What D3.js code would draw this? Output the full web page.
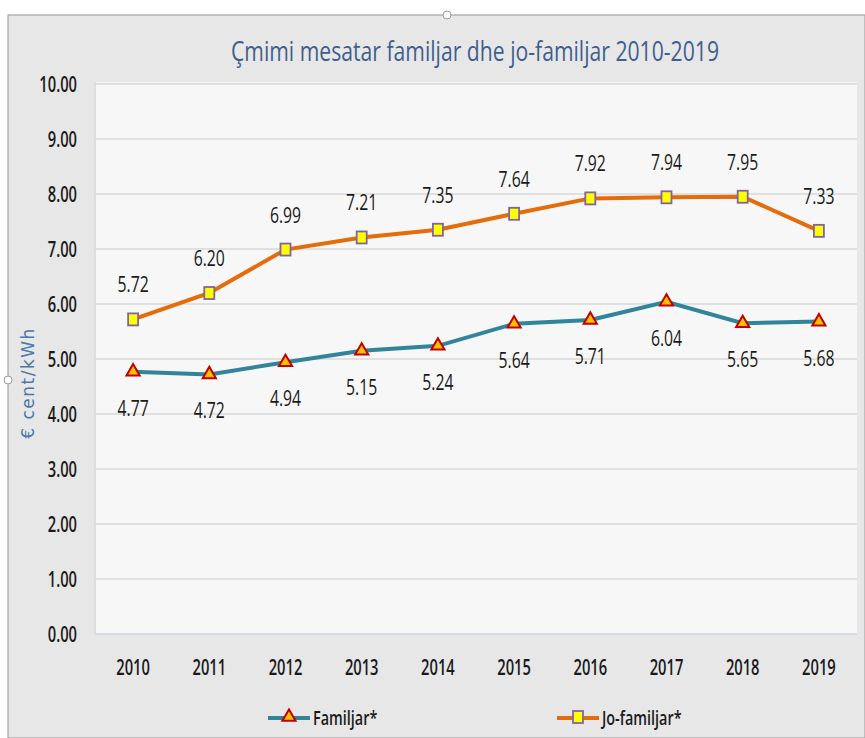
<!DOCTYPE html>
<html><head><meta charset="utf-8">
<script src="https://cdn.jsdelivr.net/npm/d3@7"></script>
<style>
html,body{margin:0;padding:0;background:#fff;}
svg{display:block;}
.cond{font-family:"Open Sans","Liberation Sans",sans-serif;}
</style></head>
<body>
<svg id="chart" width="865" height="738"></svg>
<script>
const years = ["2010","2011","2012","2013","2014","2015","2016","2017","2018","2019"];
const familjar = [4.77,4.72,4.94,5.15,5.24,5.64,5.71,6.04,5.65,5.68];
const joFamiljar = [5.72,6.20,6.99,7.21,7.35,7.64,7.92,7.94,7.95,7.33];
const yTicks = [0,1,2,3,4,5,6,7,8,9,10];
const seriesNames = ["Familjar*","Jo-familjar*"];
const chartTitle = "Çmimi mesatar familjar dhe jo-familjar 2010-2019";
const yTitle = "€ cent/kWh";

(function(){
const svg = d3.select("#chart");
const W = 865, H = 738;

function condense(sel, f){
  sel.each(function(){
    const w = this.getComputedTextLength();
    d3.select(this).attr("textLength", w*f).attr("lengthAdjust","spacingAndGlyphs");
  });
}

svg.append("rect").attr("x",8).attr("y",15).attr("width",W-8).attr("height",H-15)
  .attr("fill","#e7e7e7").attr("stroke","#a6a6a6").attr("stroke-width",1.2);
svg.append("circle").attr("cx",447).attr("cy",15).attr("r",4).attr("fill","#fff").attr("stroke","#999");
svg.append("circle").attr("cx",8).attr("cy",380).attr("r",4).attr("fill","#fff").attr("stroke","#999");

const pL = 95, pR = 857, pT = 84, pB = 634;
const x = d3.scaleBand().domain(years).range([pL,pR]);
const y = d3.scaleLinear().domain([0,10]).range([pB,pT]);

svg.append("rect").attr("x",pL).attr("y",pT-2).attr("width",pR-pL).attr("height",pB-pT+2)
  .attr("fill","#f7f7f7");

svg.append("g").selectAll("line").data(yTicks.filter(d=>d>0)).join("line")
  .attr("x1",pL).attr("x2",pR).attr("y1",d=>y(d)).attr("y2",d=>y(d))
  .attr("stroke","#d9d9d9").attr("stroke-width",1.5);
svg.append("line").attr("x1",pL).attr("x2",pR).attr("y1",pB).attr("y2",pB)
  .attr("stroke","#c9d5e3").attr("stroke-width",1.5);
svg.append("line").attr("x1",pL).attr("x2",pL).attr("y1",pT-2).attr("y2",pB)
  .attr("stroke","#d9d9d9").attr("stroke-width",1.5);

const yAxis = d3.axisLeft(y).tickValues(yTicks).tickFormat(d3.format(".2f")).tickSize(0).tickPadding(18);
const gy = svg.append("g").attr("transform",`translate(${pL},0)`).call(yAxis);
gy.select(".domain").remove();
gy.selectAll("text").attr("class","cond").attr("font-size",21).attr("fill","#1a1a1a")
  .attr("font-weight",600).attr("dy","0.36em").call(condense,0.7);

const xAxis = d3.axisBottom(x).tickSize(0).tickPadding(26);
const gx = svg.append("g").attr("transform",`translate(0,${pB})`).call(xAxis);
gx.select(".domain").remove();
gx.selectAll("text").attr("class","cond").attr("font-size",21).attr("fill","#1a1a1a")
  .attr("font-weight",600).call(condense,0.7);

svg.append("text").attr("x",475).attr("y",61).attr("text-anchor","middle").attr("class","cond")
  .attr("font-size",27).attr("fill","#3e5f8e").text(chartTitle).call(condense,0.72)
  .attr("textLength",488);
svg.append("text").attr("transform","translate(34,383) rotate(-90)").attr("text-anchor","middle")
  .attr("font-family","'DejaVu Sans',Verdana,sans-serif").attr("font-size",17).attr("fill","#4a78a8")
  .attr("letter-spacing",1.5).text(yTitle);

const cx = i => x(years[i]) + x.bandwidth()/2;
const line = d3.line().x((d,i)=>cx(i)).y(d=>y(d));

svg.append("path").datum(familjar).attr("d",line).attr("fill","none").attr("stroke","#31849b").attr("stroke-width",4);
svg.append("path").datum(joFamiljar).attr("d",line).attr("fill","none").attr("stroke","#e46c0a").attr("stroke-width",4);

const tri = d3.symbol().type(d3.symbolTriangle).size(75);
function triangle(g,px,py){
  g.append("path").attr("d",tri()).attr("transform",`translate(${px},${py})`)
   .attr("fill","#ffc000").attr("stroke","#c00000").attr("stroke-width",2);
}
function square(g,px,py){
  g.append("rect").attr("x",px-5).attr("y",py-6).attr("width",10).attr("height",12)
   .attr("fill","#ffff00").attr("stroke","#8064a2").attr("stroke-width",1.8);
}
const mk = svg.append("g");
familjar.forEach((v,i)=>triangle(mk,cx(i),y(v)));
joFamiljar.forEach((v,i)=>square(mk,cx(i),y(v)));

svg.append("g").selectAll("text").data(familjar).join("text").attr("class","cond")
  .attr("x",(d,i)=>cx(i)).attr("y",d=>y(d)+44).attr("text-anchor","middle")
  .attr("font-size",21).attr("fill","#1a1a1a").text(d=>d.toFixed(2)).call(condense,0.75);
svg.append("g").selectAll("text").data(joFamiljar).join("text").attr("class","cond")
  .attr("x",(d,i)=>cx(i)).attr("y",d=>y(d)-27).attr("text-anchor","middle")
  .attr("font-size",21).attr("fill","#1a1a1a").text(d=>d.toFixed(2)).call(condense,0.75);

const lg = svg.append("g");
const legendItems = [
  {name:seriesNames[0], x:268, color:"#31849b", mark:triangle},
  {name:seriesNames[1], x:557, color:"#e46c0a", mark:square}
];
legendItems.forEach(it=>{
  lg.append("line").attr("x1",it.x).attr("x2",it.x+42).attr("y1",718).attr("y2",718)
    .attr("stroke",it.color).attr("stroke-width",4);
  it.mark(lg,it.x+21,717);
  lg.append("text").attr("class","cond").attr("x",it.x+45).attr("y",725).attr("font-size",20)
    .attr("fill","#1a1a1a").attr("font-weight",600).text(it.name).call(condense,0.72);
});
})();
</script>
</body></html>
